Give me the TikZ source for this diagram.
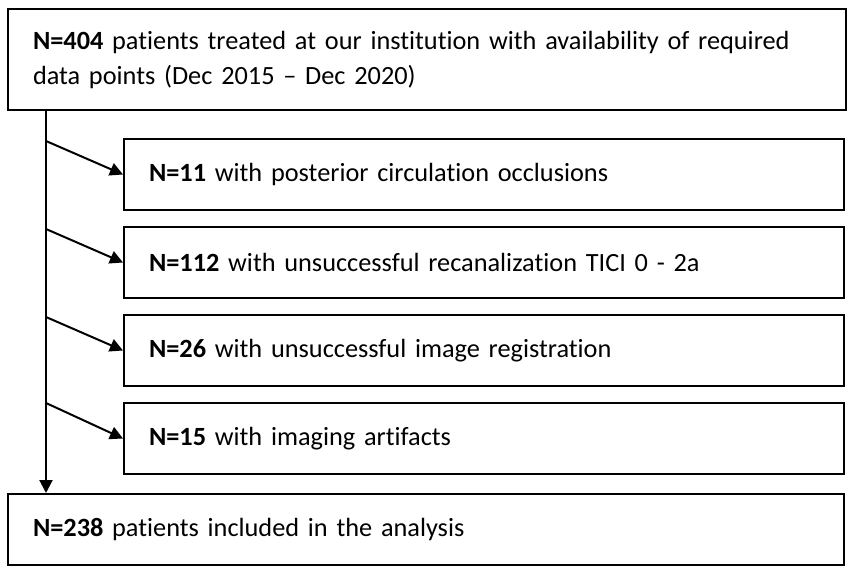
\documentclass[tikz,border=0pt]{standalone}
\usepackage{fontspec}
\setmainfont[Ligatures={NoCommon}]{Carlito}
\usetikzlibrary{arrows.meta}
\begin{document}
\begin{tikzpicture}[x=1pt,y=-1pt,
  box/.style={draw=black,line width=2pt,anchor=north west,align=left,inner xsep=25pt,inner ysep=0pt,
    font=\fontsize{26.3}{35}\selectfont},
  conn/.style={line width=2pt,-{Triangle[length=13pt,width=13pt]}}]
\useasboundingbox (0,0) rectangle (851,572);
\node[box,minimum width=838pt,minimum height=101pt,text width=788pt] (top) at (7,8)
  {\textbf{N=404} patients treated at our institution with availability of required\\data points (Dec 2015 -- Dec 2020)};
\node[box,minimum width=720pt,minimum height=71pt,text width=670pt] (b1) at (123,138) {\textbf{N=11} with posterior circulation occlusions};
\node[box,minimum width=720pt,minimum height=71pt,text width=670pt] (b2) at (123,226) {\textbf{N=112} with unsuccessful recanalization TICI 0 - 2a};
\node[box,minimum width=720pt,minimum height=71pt,text width=670pt] (b3) at (123,314) {\textbf{N=26} with unsuccessful image registration};
\node[box,minimum width=720pt,minimum height=71pt,text width=670pt] (b4) at (123,402) {\textbf{N=15} with imaging artifacts};
\node[box,minimum width=836pt,minimum height=71pt,text width=786pt] (bot) at (7,493) {\textbf{N=238} patients included in the analysis};
\coordinate (s) at (46,109);
\coordinate (j1) at (46,141);
\coordinate (j2) at (46,229);
\coordinate (j3) at (46,317);
\coordinate (j4) at (46,403);
\draw[conn] (s) -- (s |- bot.north);
\draw[conn] (j1) -- (b1.west);
\draw[conn] (j2) -- (b2.west);
\draw[conn] (j3) -- (b3.west);
\draw[conn] (j4) -- (b4.west);
\end{tikzpicture}
\end{document}
